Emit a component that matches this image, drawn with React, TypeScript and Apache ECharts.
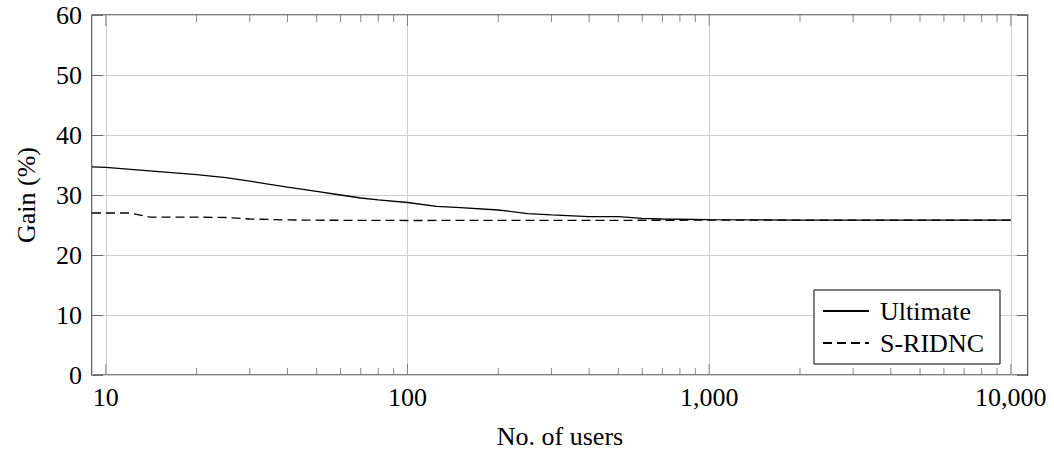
import React, { useEffect, useRef } from "react";
import * as echarts from "echarts";

// Number of users (log scale) and gain in percent for each scheme
const ultimateUsers = [9, 10, 15, 20, 25, 30, 40, 50, 60, 70, 80, 100, 125, 150, 200, 250, 300, 400, 500, 600, 700, 1000, 2000, 5000, 10000];
const ultimateGain = [34.7, 34.6, 33.9, 33.4, 32.9, 32.3, 31.3, 30.6, 30.0, 29.5, 29.2, 28.75, 28.1, 27.9, 27.5, 26.9, 26.7, 26.4, 26.4, 26.1, 26.0, 25.9, 25.8, 25.8, 25.8];

const sridncUsers = [9, 12, 14, 20, 25, 30, 40, 50, 100, 1000, 10000];
const sridncGain = [27.0, 27.0, 26.3, 26.3, 26.25, 26.0, 25.85, 25.8, 25.75, 25.8, 25.8];

const seriesNames = ["Ultimate", "S-RIDNC"];

// Tick positions on the logarithmic x axis
const majorTicks = [10, 100, 1000, 10000];
const minorSteps = [2, 3, 4, 5, 6, 7, 8, 9];
const minorTicks = majorTicks.slice(0, 3).flatMap((d) => minorSteps.map((k) => d * k));

const X_MIN = 9;
const X_MAX = 11400;
const Y_MIN = 0;
const Y_MAX = 60;

const FONT = "'Liberation Serif', 'Times New Roman', serif";
const FONT_SIZE = 26;
const TICK_COLOR = "#6a6a6a";

const isDecade = (v: number) => {
  const l = Math.log10(v);
  return Math.abs(l - Math.round(l)) < 1e-6;
};

// Short vertical marks pointing inwards from the bottom or top frame
const tickMarks = (values: number[], yValue: number, length: number) => ({
  type: "scatter",
  silent: true,
  clip: false,
  z: 10,
  data: values.map((v) => [v, yValue]),
  symbol: "rect",
  symbolSize: [1, length],
  symbolOffset: [0, yValue === Y_MIN ? -length / 2 : length / 2],
  itemStyle: { color: TICK_COLOR },
  emphasis: { disabled: true },
  tooltip: { show: false },
});

export default function App() {
  const ref = useRef<HTMLDivElement>(null);

  useEffect(() => {
    if (!ref.current) return;
    const chart = echarts.init(ref.current, undefined, { renderer: "svg" });

    const tickStyle = { color: TICK_COLOR, width: 1 };

    chart.setOption({
      animation: false,
      grid: {
        left: 92,
        right: 26,
        top: 15,
        bottom: 80,
        show: true,
        borderColor: "#000",
        borderWidth: 1.2,
        backgroundColor: "transparent",
      },
      legend: {
        data: seriesNames,
        orient: "vertical",
        right: 54,
        bottom: 91,
        backgroundColor: "#fff",
        borderColor: "#000",
        borderWidth: 1,
        borderRadius: 0,
        padding: [8, 16, 8, 8],
        itemGap: 6,
        itemWidth: 46,
        itemHeight: 14,
        selectedMode: false,
        itemStyle: { opacity: 0 },
        textStyle: {
          fontFamily: FONT,
          fontSize: FONT_SIZE,
          color: "#000",
          padding: [0, 0, 0, 6],
        },
      },
      xAxis: {
        type: "log",
        logBase: 10,
        min: X_MIN,
        max: X_MAX,
        position: "bottom",
        name: "No. of users",
        nameLocation: "middle",
        nameGap: 48,
        nameTextStyle: { fontFamily: FONT, fontSize: FONT_SIZE, color: "#000" },
        axisLine: { show: false },
        axisTick: { show: false },
        axisLabel: {
          fontFamily: FONT,
          fontSize: FONT_SIZE,
          color: "#000",
          margin: 9,
          formatter: (v: number) => (isDecade(v) ? Math.round(v).toLocaleString("en-US") : ""),
        },
        splitLine: { show: true, lineStyle: { color: "#cfcfcf", width: 1 } },
        minorTick: { show: false },
      },
      yAxis: [
        {
          type: "value",
          min: Y_MIN,
          max: Y_MAX,
          interval: 10,
          position: "left",
          name: "Gain (%)",
          nameLocation: "middle",
          nameGap: 53,
          nameRotate: 90,
          nameTextStyle: { fontFamily: FONT, fontSize: FONT_SIZE, color: "#000" },
          axisLine: { show: false },
          axisTick: { show: true, inside: true, length: 11, lineStyle: tickStyle },
          axisLabel: { fontFamily: FONT, fontSize: FONT_SIZE, color: "#000", margin: 10 },
          splitLine: { show: true, lineStyle: { color: "#cfcfcf", width: 1 } },
        },
        {
          type: "value",
          min: Y_MIN,
          max: Y_MAX,
          interval: 10,
          position: "right",
          axisLine: { show: false },
          axisTick: { show: true, inside: true, length: 11, lineStyle: tickStyle },
          axisLabel: { show: false },
          splitLine: { show: false },
        },
      ],
      series: [
        tickMarks(minorTicks, Y_MIN, 7),
        tickMarks(minorTicks, Y_MAX, 7),
        tickMarks(majorTicks, Y_MIN, 11),
        tickMarks(majorTicks, Y_MAX, 11),
        {
          name: seriesNames[0],
          type: "line",
          data: ultimateUsers.map((u, i) => [u, ultimateGain[i]]),
          symbol: "none",
          z: 5,
          lineStyle: { color: "#000", width: 1.3, type: "solid" },
          itemStyle: { color: "#000" },
        },
        {
          name: seriesNames[1],
          type: "line",
          data: sridncUsers.map((u, i) => [u, sridncGain[i]]),
          symbol: "none",
          z: 5,
          lineStyle: { color: "#000", width: 1.3, type: [9, 5] },
          itemStyle: { color: "#000" },
        },
      ],
    });

    return () => chart.dispose();
  }, []);

  return <div ref={ref} style={{ width: 1054, height: 455, position: "absolute", left: 0, top: 0 }} />;
}
